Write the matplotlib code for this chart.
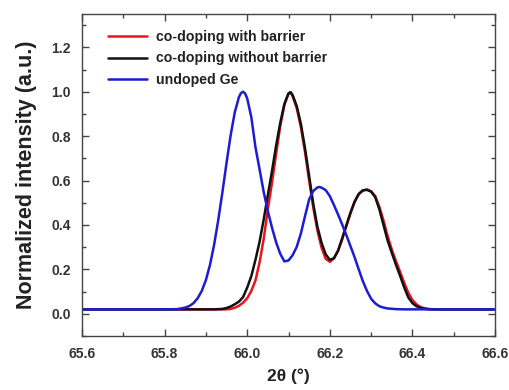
import matplotlib
matplotlib.use("Agg")
import matplotlib.pyplot as plt
from matplotlib.ticker import MultipleLocator

plt.rcParams['font.family'] = ['Liberation Sans', 'DejaVu Sans']

# ---- data ----
x_blue = [65.60, 65.80, 65.83, 65.84, 65.85, 65.86, 65.87, 65.88, 65.89, 65.90,
          65.91, 65.92, 65.93, 65.94, 65.95, 65.96, 65.97, 65.98, 65.985, 65.99,
          65.995, 66.00,
          66.01, 66.02, 66.03, 66.04, 66.05, 66.06, 66.07, 66.08, 66.09, 66.10,
          66.11, 66.12, 66.13, 66.14, 66.15, 66.16, 66.17, 66.175, 66.18, 66.19, 66.20,
          66.21, 66.22, 66.23, 66.24, 66.25, 66.26, 66.27, 66.28, 66.29, 66.30,
          66.31, 66.32, 66.33, 66.34, 66.36, 66.38, 66.60]
y_blue = [0.020, 0.020, 0.021, 0.024, 0.028, 0.035, 0.048, 0.070, 0.103, 0.152,
          0.221, 0.312, 0.423, 0.548, 0.680, 0.805, 0.908, 0.976, 0.994, 1.000,
          0.992, 0.970,
          0.885, 0.750, 0.650, 0.548, 0.462, 0.388, 0.322, 0.270, 0.236, 0.240,
          0.264, 0.302, 0.362, 0.440, 0.515, 0.553, 0.569, 0.571, 0.568, 0.557, 0.530,
          0.490, 0.447, 0.402, 0.355, 0.305, 0.255, 0.200, 0.147, 0.103, 0.068,
          0.047, 0.034, 0.028, 0.024, 0.021, 0.020, 0.020]

x_cd = [65.60, 65.90, 65.92, 65.93, 65.94, 65.95, 65.96, 65.97, 65.98, 65.99,
        66.00, 66.01, 66.02, 66.03, 66.04, 66.05, 66.06, 66.07, 66.08, 66.09,
        66.10, 66.105, 66.11, 66.12, 66.13, 66.14, 66.15, 66.16, 66.17, 66.18, 66.19,
        66.20, 66.21, 66.22, 66.23, 66.24, 66.25, 66.26, 66.27, 66.28, 66.29,
        66.30, 66.31, 66.32, 66.33, 66.34, 66.35, 66.36, 66.37, 66.38, 66.39,
        66.40, 66.41, 66.42, 66.43, 66.44, 66.46, 66.60]

y_without = [0.020, 0.020, 0.020, 0.021, 0.022, 0.026, 0.033, 0.043, 0.055, 0.075,
             0.118, 0.170, 0.243, 0.325, 0.425, 0.535, 0.642, 0.757, 0.860, 0.945,
             0.993, 0.998, 0.985, 0.935, 0.855, 0.745, 0.620, 0.495, 0.392, 0.320, 0.268,
             0.243, 0.250, 0.285, 0.340, 0.398, 0.455, 0.505, 0.540, 0.556, 0.558,
             0.550, 0.525, 0.470, 0.400, 0.330, 0.275, 0.222, 0.172, 0.120, 0.074,
             0.048, 0.034, 0.027, 0.023, 0.021, 0.020, 0.020]

y_with = [0.020, 0.020, 0.020, 0.020, 0.020, 0.020, 0.022, 0.027, 0.036, 0.050,
          0.070, 0.103, 0.150, 0.232, 0.338, 0.470, 0.590, 0.720, 0.845, 0.940,
          0.992, 0.996, 0.980, 0.925, 0.840, 0.728, 0.600, 0.478, 0.375, 0.298, 0.248,
          0.234, 0.250, 0.283, 0.335, 0.395, 0.452, 0.503, 0.538, 0.555, 0.560,
          0.552, 0.530, 0.482, 0.420, 0.350, 0.290, 0.238, 0.190, 0.140, 0.095,
          0.062, 0.042, 0.030, 0.024, 0.021, 0.020, 0.020]

labels = ["co-doping with barrier", "co-doping without barrier", "undoped Ge"]
x_ticks = [65.6, 65.8, 66.0, 66.2, 66.4, 66.6]
y_ticks = [0.0, 0.2, 0.4, 0.6, 0.8, 1.0, 1.2]

fig = plt.figure(figsize=(5.09, 3.90), dpi=100)
ax = fig.add_axes([82/509, 54/390, 413/509, 322/390])

style = dict(lw=1.8, solid_joinstyle='round', solid_capstyle='round')
ax.plot(x_cd, y_with, color='#e8141c', label=labels[0], **style)
ax.plot(x_cd, y_without, color='#111111', label=labels[1], **style)
ax.plot(x_blue, y_blue, color='#1c1cd2', label=labels[2], **style)

ax.set_xlim(65.6, 66.6)
ax.set_ylim(-0.1, 1.35)
ax.set_xticks(x_ticks)
ax.set_xticklabels([f"{v:.1f}" for v in x_ticks])
ax.set_yticks(y_ticks)
ax.set_yticklabels([f"{v:.1f}" for v in y_ticks])
ax.xaxis.set_minor_locator(MultipleLocator(0.1))
ax.yaxis.set_minor_locator(MultipleLocator(0.1))
ax.tick_params(which='both', direction='in', top=True, right=True,
               colors='#444444', labelcolor='#333333')
ax.tick_params(which='major', length=5, width=1)
ax.tick_params(which='minor', length=3, width=1)
ax.tick_params(axis='x', which='major', pad=8)
ax.tick_params(axis='y', which='major', pad=8)
for lab in ax.get_xticklabels() + ax.get_yticklabels():
    lab.set_fontweight('bold')
    lab.set_fontsize(10)
for s in ax.spines.values():
    s.set_color('#444444')
    s.set_linewidth(1)

ax.set_xlabel("2θ (°)", fontsize=12.5, fontweight='bold', color='#222222', labelpad=5)
ax.set_ylabel("Normalized intensity (a.u.)", fontsize=15.5, fontweight='bold',
              color='#222222', labelpad=10)

leg = ax.legend(loc='upper left', bbox_to_anchor=(0.045, 0.972), frameon=False,
                borderpad=0, handlelength=2.8, handletextpad=0.6,
                labelspacing=0.52, prop={'weight': 'bold', 'size': 10.2})
for t in leg.get_texts():
    t.set_color('#222222')

fig.savefig("out.png", dpi=100)
